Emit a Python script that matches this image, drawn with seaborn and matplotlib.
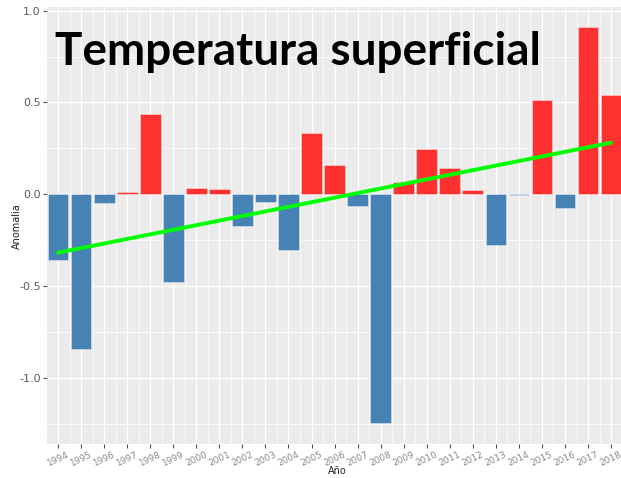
import matplotlib
matplotlib.use("Agg")
import matplotlib.pyplot as plt
import seaborn as sns
import pandas as pd
import numpy as np
from matplotlib.ticker import FixedLocator

years = list(range(1994, 2019))
anomalies = [-0.36, -0.84, -0.047, 0.015, 0.436, -0.477, 0.033, 0.027, -0.174, -0.042,
             -0.306, 0.333, 0.161, -0.064, -1.248, 0.065, 0.245, 0.143, 0.025, -0.275,
             -0.003, 0.516, -0.075, 0.909, 0.543]
y_ticks = [-1.0, -0.5, 0.0, 0.5, 1.0]
y_tick_labels = ["-1.0", "-0.5", "0.0", "0.5", "1.0"]
title = "Temperatura superficial"

df = pd.DataFrame({"year": years, "anom": anomalies})
df["signo"] = np.where(df["anom"] > 0, "pos", "neg")

sns.set_theme(style="darkgrid", rc={"axes.facecolor": "#EBEBEB", "grid.color": "white"})

fig = plt.figure(figsize=(6.21, 4.78), dpi=100)
W, H = 621, 478
left, right, top, bottom = 47, 621, 7, 444
ax = fig.add_axes([left / W, 1 - bottom / H, (right - left) / W, (bottom - top) / H])

sns.barplot(data=df, x="year", y="anom", hue="signo", native_scale=True,
            palette={"pos": "#FF3131", "neg": "#4682B4"}, saturation=1, width=0.9,
            dodge=False, edgecolor=(1, 1, 1, 0.45), linewidth=0.6, legend=False,
            ax=ax, zorder=2)

sns.regplot(data=df, x="year", y="anom", ci=None, scatter=False, truncate=True,
            line_kws={"color": "#00FF00", "linewidth": 2.8, "zorder": 3}, ax=ax)

ax.set_xlim(1993.52, 2018.43)
ax.set_ylim(-1.36, 1.02)
ax.set_xticks(years)
ax.set_xticklabels([str(y) for y in years], rotation=25, ha="center", va="top",
                   fontsize=6.5, color="#8A8A8A")
ax.xaxis.set_minor_locator(FixedLocator([y + 0.5 for y in years[:-1]]))
ax.set_yticks(y_ticks)
ax.set_yticklabels(y_tick_labels, fontsize=8, color="#5A5A5A")
ax.yaxis.set_minor_locator(FixedLocator([-1.25, -0.75, -0.25, 0.25, 0.75]))
ax.grid(which="major", color="white", linewidth=1.0)
ax.grid(which="minor", color="white", linewidth=0.5)
ax.tick_params(axis="both", which="major", length=3, width=0.8, color="#555555",
               bottom=True, left=True, pad=1.5)
ax.tick_params(axis="both", which="minor", length=0)
for s in ax.spines.values():
    s.set_visible(False)
ax.set_xlabel("")
ax.set_ylabel("")

fig.text(337 / W, 1 - 471 / H, "Año", ha="center", va="center", fontsize=7, color="#222222")
fig.text(17 / W, 1 - 226 / H, "Anomalia", ha="center", va="center", rotation=90,
         fontsize=7, color="#222222")
fig.text(55 / W, 1 - 65 / H, title, ha="left", va="baseline", fontsize=33,
         fontweight="bold", family="Lato", color="black")

fig.savefig("out.png", dpi=100)
